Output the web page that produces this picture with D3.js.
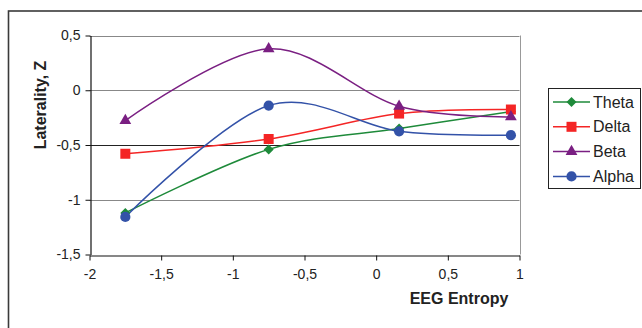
<!DOCTYPE html>
<html><head><meta charset="utf-8">
<script src="https://cdn.jsdelivr.net/npm/d3@7"></script>
<style>body{margin:0;background:#fff}svg{display:block}</style>
</head><body>
<script>
const xValues = [-1.75, -0.75, 0.16, 0.94];
const theta = [-1.12, -0.54, -0.35, -0.195];
const delta = [-0.58, -0.445, -0.213, -0.176];
const beta = [-0.277, 0.378, -0.146, -0.243];
const alpha = [-1.157, -0.14, -0.375, -0.41];
const seriesNames = ["Theta", "Delta", "Beta", "Alpha"];
const xTicks = [-2, -1.5, -1, -0.5, 0, 0.5, 1];
const yTicks = [0.5, 0, -0.5, -1, -1.5];

const series = [
  {name: "Theta", values: theta, color: "#1e8a3a", shape: "diamond"},
  {name: "Delta", values: delta, color: "#f42525", shape: "square"},
  {name: "Beta", values: beta, color: "#7a1f82", shape: "triangle"},
  {name: "Alpha", values: alpha, color: "#3352a8", shape: "circle"}
];

const W = 642, H = 328;
const svg = d3.select("body").append("svg").attr("width", W).attr("height", H);
svg.append("rect").attr("x", 8.5).attr("y", 11).attr("width", 640).attr("height", 330)
  .attr("fill", "none").attr("stroke", "#3a3a3a").attr("stroke-width", 1.6);

const x = d3.scaleLinear().domain([-2, 1]).range([89.5, 519.5]);
const y = d3.scaleLinear().domain([-1.5, 0.5]).range([254.5, 35.5]);
const fmt = v => String(v).replace(".", ",");
const font = "'Liberation Sans', Arial, sans-serif";

// gridlines
const g = svg.append("g");
yTicks.filter(t => t > -1.5).forEach(t => {
  g.append("line").attr("x1", x(-2)).attr("x2", x(1)).attr("y1", Math.round(y(t)) + 0.5).attr("y2", Math.round(y(t)) + 0.5)
    .attr("stroke", t === -0.5 ? "#222" : "#888").attr("stroke-width", 1);
});
// right border
g.append("line").attr("x1", Math.round(x(1)) + 0.5).attr("x2", Math.round(x(1)) + 0.5).attr("y1", y(0.5)).attr("y2", y(-1.5))
  .attr("stroke", "#999");

// axes
const yAxis = d3.axisLeft(y).tickValues(yTicks).tickFormat(fmt).tickSize(5).tickSizeOuter(0);
const yg = svg.append("g").attr("transform", `translate(${Math.round(x(-2)) + 0.5},0)`).call(yAxis);
const xAxis = d3.axisBottom(x).tickValues(xTicks).tickFormat(fmt).tickSize(5).tickSizeOuter(0);
const xg = svg.append("g").attr("transform", `translate(0,${Math.round(y(-1.5)) + 0.5})`).call(xAxis);
[yg, xg].forEach(a => {
  a.select(".domain").attr("stroke", "#111").attr("stroke-width", 1.2);
  a.selectAll(".tick line").attr("stroke", "#111");
  a.selectAll("text").attr("font-family", font).attr("font-size", 14).attr("fill", "#222");
});
yg.selectAll("text").attr("x", -10);
xg.selectAll("text").attr("y", 14);

// titles
svg.append("text").attr("x", 459).attr("y", 304).attr("text-anchor", "middle")
  .attr("font-family", font).attr("font-weight", "bold").attr("font-size", 16).attr("fill", "#222").text("EEG Entropy");
svg.append("text").attr("transform", "translate(46,105) rotate(-90)").attr("text-anchor", "middle")
  .attr("font-family", font).attr("font-weight", "bold").attr("font-size", 16).attr("fill", "#222").text("Laterality, Z");

const line = d3.line().x((d, i) => x(xValues[i])).y(d => y(d)).curve(d3.curveCardinal.tension(0));

function marker(sel, shape, color) {
  if (shape === "diamond") {
    sel.append("path").attr("d", "M0,-5L5,0L0,5L-5,0Z").attr("fill", color);
    return;
  }
  let s;
  if (shape === "square") s = d3.symbol(d3.symbolSquare, 100);
  else if (shape === "triangle") s = d3.symbol(d3.symbolTriangle, 60);
  else s = d3.symbol(d3.symbolCircle, 82);
  sel.append("path").attr("d", s).attr("fill", color);
}

series.forEach(sr => {
  svg.append("path").attr("d", line(sr.values)).attr("fill", "none").attr("stroke", sr.color).attr("stroke-width", 1.5);
});
series.forEach(sr => {
  sr.values.forEach((v, i) => {
    const m = svg.append("g").attr("transform", `translate(${x(xValues[i])},${y(v)})`);
    marker(m, sr.shape, sr.color);
  });
});

// legend
svg.append("rect").attr("x", 548.5).attr("y", 88.5).attr("width", 92).attr("height", 100)
  .attr("fill", "#fff").attr("stroke", "#222").attr("stroke-width", 1);
series.forEach((sr, i) => {
  const ly = 102 + i * 24.8;
  const lg = svg.append("g");
  lg.append("line").attr("x1", 553).attr("x2", 590).attr("y1", ly).attr("y2", ly).attr("stroke", sr.color).attr("stroke-width", 1.5);
  const m = lg.append("g").attr("transform", `translate(571.5,${ly})`);
  marker(m, sr.shape, sr.color);
  lg.append("text").attr("x", 593).attr("y", ly + 5.5).attr("font-family", font).attr("font-size", 16).attr("fill", "#222").text(seriesNames[i]);
});
</script>
</body></html>
